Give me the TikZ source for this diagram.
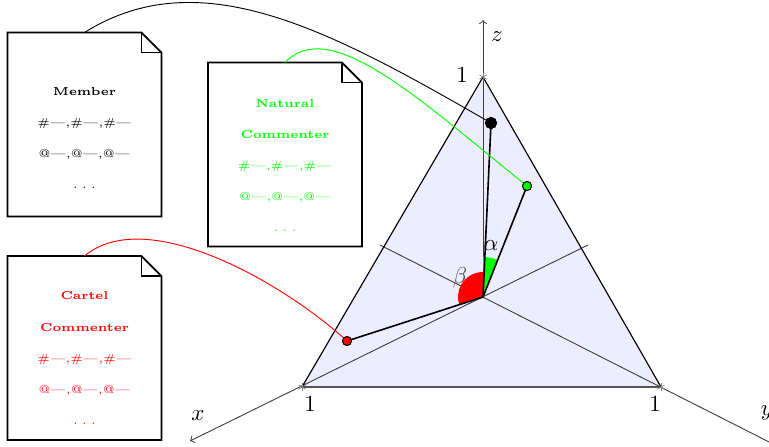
\documentclass[tikz,border=0pt]{standalone}
\usetikzlibrary{calc}
\newcommand\fold{8.7pt}
\newcommand\mydots{.\hspace{1.9pt}.\hspace{1.9pt}.}
\newcommand\docoutline[1]{%
  \draw[docline] (#1.north west) -- ([xshift=-\fold]#1.north east) -- ([yshift=-\fold]#1.north east) -- (#1.south east) -- (#1.south west) -- cycle;
  \draw[docline] ([xshift=-\fold]#1.north east) -- ([xshift=-\fold,yshift=-\fold]#1.north east) -- ([yshift=-\fold]#1.north east);}
\begin{document}
\begin{tikzpicture}[x=0.4348pt,y=0.4348pt,
  docshape/.style={minimum width=66.5pt,minimum height=79.6pt,inner sep=0pt},
  docline/.style={line width=0.8pt,line join=miter},
  doctext/.style={align=center,font=\fontsize{5}{13.5}\selectfont},
  axisline/.style={black!75,line width=0.4pt},
  edge/.style={black,line width=0.5pt},
  ray/.style={black,line width=0.7pt},
  tickmk/.style={gray,line width=0.3pt},
  dotb/.style={circle,draw=black,fill=black,inner sep=0pt,minimum size=4.8pt},
  dotc/.style={circle,draw=black,fill=#1,inner sep=0pt,minimum size=3.9pt},
  lbl/.style={font=\normalsize,inner sep=0pt}]
\useasboundingbox (0,0) rectangle (769,446);
\clip (0,0) rectangle (769,446);
% coordinates
\coordinate (O) at (483,149);
\coordinate (Z1) at (483,369);
\coordinate (Zend) at (483,426);
\coordinate (X1) at (302,59);
\coordinate (Xend) at (190,5);
\coordinate (Xneg) at (588,201);
\coordinate (Y1) at (661,59);
\coordinate (Yend) at (781,-2);
\coordinate (Yneg) at (380,201);
% triangle
\fill[blue!7] (X1) -- (Y1) -- (Z1) -- cycle;
% axes
\draw[axisline,->] (Xneg) -- (Xend);
\draw[axisline,->] (Yneg) -- (Yend);
\draw[axisline,->] (O) -- (Zend);
\draw[edge] (X1) -- (Y1) -- (Z1) -- cycle;
\foreach \p in {X1,Y1,Z1}
  \foreach \a in {90,30,-30}
    \draw[tickmk] ($(\p)+(\a:4)$) -- ($(\p)+(\a+180:4)$);
% points
\node[dotb] (pb) at (491,323) {};
\node[dotc=green] (pg) at (527,260) {};
\node[dotc=red] (pr) at (347,105) {};
% wedges
\fill[green] (O) -- ($(O)+(68.4:40)$) arc[start angle=68.4,end angle=90,radius=40] -- cycle;
\fill[red] (O) -- ($(O)+(90:25)$) arc[start angle=90,end angle=197.9,radius=25] -- cycle;
% rays
\draw[ray] (O) -- (pb.center);
\draw[ray] (O) -- (pg.center);
\draw[ray] (O) -- (pr.center);
% documents
\node[docshape] (member) at (84.5,321.5) {};
\node[docshape] (natural) at (285,291.5) {};
\node[docshape] (cartel) at (84.5,98) {};
\docoutline{member}
\docoutline{natural}
\docoutline{cartel}
\node[doctext] (membertxt) at (84.5,308) {\textbf{Member}\\ \#---,\#---,\#---\\ @---,@---,@---\\ \mydots};
\node[doctext,text=green] (naturaltxt) at (285,280.5) {\textbf{Natural}\\ \textbf{Commenter}\\ \#---,\#---,\#---\\ @---,@---,@---\\ \mydots};
\node[doctext,text=red] (carteltxt) at (84.5,88) {\textbf{Cartel}\\ \textbf{Commenter}\\ \#---,\#---,\#---\\ @---,@---,@---\\ \mydots};
% curves
\draw[black,line width=0.4pt] (member.north) .. controls (200,486) and (330,416) .. (pb.center);
\draw[green,line width=0.4pt] (natural.north) .. controls (330,431) and (420,346) .. (pg.center);
\draw[red,line width=0.4pt] (cartel.north) .. controls (145,241) and (280,166) .. (pr.center);
% redraw dots on top
\node[dotb] at (pb) {};
\node[dotc=green] at (pg) {};
\node[dotc=red] at (pr) {};
% labels
\node[lbl] (l1z) at (462,371) {$1$};
\node[lbl] (l1x) at (310,42) {$1$};
\node[lbl] (l1y) at (655,42) {$1$};
\node[lbl] (lx) at (198,30) {$x$};
\node[lbl] (ly) at (767,33) {$y$};
\node[lbl] (lz) at (497,409) {$z$};
\node[lbl] (la) at (491,200) {$\alpha$};
\node[lbl,text=black!70] (lb) at (460,168) {$\beta$};
\end{tikzpicture}
\end{document}
